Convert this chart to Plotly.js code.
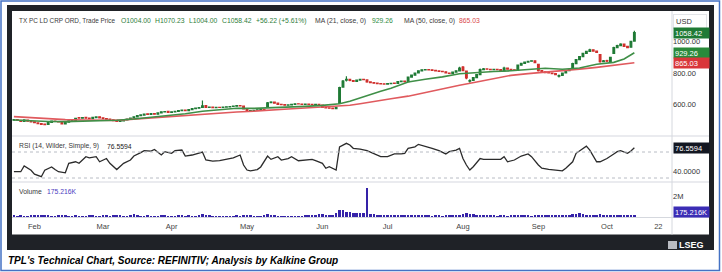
<!DOCTYPE html>
<html><head><meta charset="utf-8">
<script src="https://cdn.plot.ly/plotly-3.0.1.min.js"></script>
<style>html,body{margin:0;padding:0;background:#fff;}#chart{width:722px;height:272px;}</style>
</head><body><div id="chart"></div>
<script>
// ---- DATA ----
const opens = [498,503,497,491,499,492,488,481,476,473, 471,485,493,490,486,475,486,494,497,515, 511,516,512,508,515,520,514,509,506,501,
497,490,494,500,506,512,520,528,531,539, 536,541,537,545,552,555,549,552,555,560, 563,559,566,572,575,580,592,580,582,579,
581,580,582,584,586,588,592,588,569,558, 560,562,565,566,580,610,614,607,600,598, 594,596,600,603,602,600,601,600,597,600,
595,580,577,575,572,605,710,755,760,752, 747,755,760,756,743,738,735,732,731,729, 732,735,733,745,748,745,774,786,800,814,
820,822,820,817,813,810,808,800,798,806, 814,838,812,748,752,770,790,822,826,824, 822,823,821,814,832,824,820,818,850,862,
870,875,878,856,815,808,803,800,796,780, 784,800,815,830,860,885,905,925,938,948, 940,918,872,880,872,925,962,975,984,970,
965,1004];
const highs = [505,505,499,502,501,494,490,483,478,476, 486,494,496,492,487,487,496,499,512,517, 518,518,514,518,521,522,516,511,508,503,
499,496,502,508,514,522,530,534,540,541, 543,543,547,554,557,557,554,557,562,565, 565,568,574,577,581,625,595,585,584,583,
583,584,586,588,590,594,594,590,572,563, 564,567,568,568,615,620,616,609,603,600, 599,602,605,606,604,604,603,602,602,602,
597,583,580,578,583,712,755,780,764,755, 758,763,762,759,746,741,738,735,733,735, 737,737,748,752,750,778,790,803,817,824,
826,825,822,819,815,812,810,803,809,817, 840,845,815,760,774,794,828,832,829,826, 826,825,823,840,834,826,822,853,865,873,
878,882,880,858,818,811,806,803,799,790, 803,818,825,865,889,909,929,942,955,951, 943,920,883,884,904,968,980,990,987,974,
1006,1070.23];
const lows = [495,496,488,489,490,485,480,474,469,466, 470,483,488,484,472,473,484,492,495,509, 509,509,505,506,513,511,506,503,498,493,
487,488,492,498,504,510,518,525,529,533, 534,535,535,543,550,547,546,550,553,558, 557,557,564,570,573,578,578,577,576,577,
578,578,580,582,584,586,586,567,555,556, 558,560,563,561,578,607,604,598,596,592, 592,594,598,600,598,598,598,595,595,593,
576,575,572,569,570,602,708,745,748,743, 745,752,753,738,735,732,729,726,725,727, 730,730,731,742,740,743,771,783,797,811,
817,817,814,810,807,805,797,794,796,804, 812,812,760,738,750,767,788,819,821,819, 819,818,813,812,821,817,814,816,847,859,
867,872,863,810,804,799,797,792,787,772, 782,798,812,828,857,882,902,922,935,936, 928,866,868,870,869,922,958,971,966,958,
962,1004];
const closes = [502,498,490,500,492,488,482,476,472,470, 484,492,490,487,474,485,494,497,510,512, 515,511,508,516,519,513,508,505,500,496,
490,494,500,506,512,520,528,532,538,536, 540,537,545,552,554,549,552,555,560,563, 559,566,572,575,579,590,580,582,579,581,
580,582,584,586,588,592,589,570,558,560, 562,565,566,563,610,614,607,600,598,594, 596,600,603,602,600,601,600,597,600,596,
580,577,575,572,580,706,748,760,752,747, 755,760,757,743,738,735,732,730,729,732, 734,733,745,748,744,774,786,800,814,820,
822,820,817,813,810,808,800,798,806,814, 832,815,768,752,770,790,822,826,824,822, 823,821,816,832,824,820,817,850,862,870,
875,878,866,815,808,803,800,796,790,784, 800,815,822,860,885,905,925,938,948,940, 932,872,878,875,900,962,975,984,970,962,
1002.2,1058.42];
const volumeK = [160,130,150,140,120,170,190,150,210,180, 150,140,130,160,230,170,140,130,150,130,
140,120,150,160,130,140,180,150,130,160, 200,150,130,140,180,290,160,140,130,150,
120,140,130,150,160,140,120,130,150,170, 140,150,130,120,160,260,200,150,130,140,
120,130,140,120,130,150,140,230,210,160, 140,120,130,150,250,190,160,140,130,120,
130,140,120,130,140,150,160,180,170,260, 300,220,190,210,340,690,620,520,480,420,
400,380,350,2780,330,260,230,210,190,200, 180,170,160,180,170,200,190,180,170,160,
150,160,140,150,160,140,150,170,160,150, 190,260,340,300,250,220,190,180,170,160,
150,140,160,150,140,150,160,180,170,160, 150,140,150,200,190,170,160,150,180,170,
160,180,200,260,300,350,250,220,200,210, 230,270,220,200,210,230,190,180,170,180,
200,175.216];
const maIdx = [0,5,10,15,20,25,30,35,40,45,50,55,60,65,70,75,80,85,90,95,98,101,104,107,110,115,120,125,130,135,140,145,150,155,160,165,170,175,178,181];
const ma21 = [500,494,490,489,492,496,498,506,516,527,540,556,566,575,574,577,582,587,593,603,620,642,662,683,703,743,760,775,795,804,810,814,824,830,824,832,856,868,890,929.26];
const ma50 = [521,514,507,502,500,500,497,505,513,520,527,536,545,551,556,565,570,576,582,586,594,604,613,622,635,652,676,700,722,742,764,785,796,805,812,825,836,848,855,865.03];
const rsiIdx = [0,2,3,5,6,8,9,11,12,13,15,16,18,19,21,22,24,25,27,28,30,31,32,34,35,37,38,40,41,43,44,46,47,49,50,52,53,55,56,58,60,62,64,66,67,68,69,71,72,74,75,77,78,80,81,83,85,87,88,90,91,92,94,95,97,98,99,101,103,105,107,109,111,113,114,115,117,118,120,122,124,126,127,129,130,131,132,133,134,136,137,139,140,142,143,144,146,148,150,151,153,154,156,158,160,161,163,164,166,167,168,170,171,173,175,176,177,179,180,181];
const rsiVal = [39.7,39.7,48.5,42,36,32,42,47,43,39.7,38,52.6,55,52.6,62.8,61,62.8,55,60,52.6,43,48.5,52.6,57.7,63.8,69,72,71.5,74,65.4,70.5,68,72,73,63.8,65.4,67,70,57.7,56,56.6,58.7,61,65.4,50,42.3,41,43,47,63.8,58.7,62.8,57.7,60,62.8,56.6,57.7,58.7,56.6,52.6,45,47.4,42.3,78,83.4,80.8,75.7,74.5,72,68,62.8,62.8,67,67,68,75.7,78,81.8,79,75.7,72,67,70.5,73,75.7,60,50,42.3,47.4,60,58.7,58.7,57.7,58.7,62.8,55,57.7,63.8,67,62.8,50,45,43.3,42.3,41,45,55,68,75.7,79,73,55,55,60,67,70.5,72,68,71.5,76.5594];
const tickIdx = [6,26,46,68,90,109,131,153,173,188];
const tickText = ['Feb','Mar','Apr','May','Jun','Jul','Aug','Sep','Oct','22'];
const priceTicks = [600,800,1000];
const rsiTicks = [40];
const volTicks = [2000000];
const volTickText = ['2M'];
const rsiLevels = [70,30];

// ---- LAYOUT HELPERS ----
const W = 722, H = 272;
const px = x => x / W, py = y => 1 - y / H;
const idx = closes.map((_, i) => i);
const last = closes.length - 1;
const F = 'Liberation Sans, Arial, sans-serif';
const GREEN = '#1f7a35', RED = '#cf2f2c', VOLC = '#3522a8';
const XR = [-0.554, 191.98];
const HF = 6.8;

const traces = [
  {type:'candlestick', x:idx, open:opens, high:highs, low:lows, close:closes, xaxis:'x', yaxis:'y',
   increasing:{line:{color:GREEN,width:1.2}, fillcolor:GREEN},
   decreasing:{line:{color:RED,width:1.2}, fillcolor:RED}, whiskerwidth:0, hoverinfo:'skip'},
  {type:'scatter', mode:'lines', x:maIdx, y:ma50, xaxis:'x', yaxis:'y', line:{color:'#e05a5e', width:1.6}, hoverinfo:'skip'},
  {type:'scatter', mode:'lines', x:maIdx, y:ma21, xaxis:'x', yaxis:'y', line:{color:'#3f8f47', width:1.6}, hoverinfo:'skip'},
  {type:'scatter', mode:'lines', x:rsiIdx, y:rsiVal, xaxis:'x', yaxis:'y2', line:{color:'#2b2b2b', width:1.3}, hoverinfo:'skip'},
  {type:'bar', x:idx, y:volumeK.map(v => v * 1000), xaxis:'x', yaxis:'y3', marker:{color:VOLC, line:{width:0}}, width:0.75, hoverinfo:'skip'}
];

const axY = (dom, rng, tv, tt) => ({domain:dom, range:rng, side:'right', anchor:'x', tickvals:tv, ticktext:tt,
  showgrid:false, zeroline:false, showline:false, ticks:'', fixedrange:true, tickfont:{family:F, size:7.5, color:'#333'}});

const shapes = [
  {type:'rect', xref:'paper', yref:'paper', x0:px(1), x1:px(719.5), y0:py(270.5), y1:py(1), line:{color:'#4472c4', width:1.5}, fillcolor:'rgba(0,0,0,0)', layer:'below'},
  {type:'rect', xref:'paper', yref:'paper', x0:px(7), x1:px(714), y0:py(250), y1:py(5), line:{width:0}, fillcolor:'#1f2227', layer:'below'},
  {type:'rect', xref:'paper', yref:'paper', x0:px(12), x1:px(709), y0:py(234.5), y1:py(11), line:{width:0}, fillcolor:'#ffffff', layer:'below'},
  {type:'line', xref:'paper', yref:'paper', x0:px(12), x1:px(709), y0:py(136), y1:py(136), line:{color:'#e3e5ea', width:1.5}},
  {type:'line', xref:'paper', yref:'paper', x0:px(12), x1:px(709), y0:py(182), y1:py(182), line:{color:'#e3e5ea', width:1.5}},
  {type:'line', xref:'paper', yref:'paper', x0:px(12), x1:px(709), y0:py(217.5), y1:py(217.5), line:{color:'#d5d8de', width:1}},
  {type:'line', xref:'paper', yref:'paper', x0:px(672), x1:px(672), y0:py(234.5), y1:py(11), line:{color:'#d5d8de', width:1}},
  {type:'rect', xref:'paper', yref:'paper', x0:px(668), x1:px(677), y0:py(249), y1:py(241), line:{width:0}, fillcolor:'#b9bcc2'}
];
rsiLevels.forEach(v => shapes.push({type:'line', xref:'x', yref:'y2', x0:XR[0], x1:XR[1], y0:v, y1:v, line:{color:'#b8bcc4', width:1, dash:'dot'}}));

const chg = closes[last] - closes[last - 1];
const pct = chg / closes[last - 1] * 100;
const fmt = v => v.toFixed(2);
const hdr = (text, x, y, color, size) => ({text, x:px(x), y:py(y), xref:'paper', yref:'paper', xanchor:'left', yanchor:'middle', showarrow:false, font:{family:F, size:size || HF, color}});
const tag = (text, y, yref, bg) => ({text, x:px(672.5), y, xref:'paper', yref, xanchor:'left', yanchor:'middle', showarrow:false,
  bgcolor:bg, borderpad:1, width:33, height:8, align:'left', font:{family:F, size:7.5, color:'#fff'}});
const sgn = v => (v >= 0 ? '+' : '');

const annotations = [
  hdr('TX PC LD CRP ORD, Trade Price', 17, 21, '#3a3a3a', 6.4),
  hdr('O' + fmt(opens[last]), 119, 21, '#2e7d3a'),
  hdr('H' + fmt(highs[last]), 153, 21, '#2e7d3a'),
  hdr('L' + fmt(lows[last]), 187, 21, '#2e7d3a'),
  hdr('C' + fmt(closes[last]), 220, 21, '#2e7d3a'),
  hdr(sgn(chg) + fmt(chg) + ' (' + sgn(chg) + fmt(pct) + '%)', 254, 21, '#2e7d3a'),
  hdr('MA (21, close, 0)', 313, 21, '#3a3a3a'),
  hdr(fmt(ma21[ma21.length-1]), 370, 21, '#2e8b3e'),
  hdr('MA (50, close, 0)', 402, 21, '#3a3a3a'),
  hdr(fmt(ma50[ma50.length-1]), 457, 21, '#d9474b'),
  hdr('RSI (14, Wilder, Simple, 9)', 17, 146, '#3a3a3a'),
  hdr(rsiVal[rsiVal.length-1].toFixed(4), 105, 146, '#222'),
  hdr('Volume', 17, 191.5, '#3a3a3a'),
  hdr((volumeK[last]).toFixed(3) + 'K', 45, 191.5, '#4b3cc0'),
  {text:'USD', x:px(673), y:py(21.5), xref:'paper', yref:'paper', xanchor:'left', yanchor:'middle', showarrow:false,
   bordercolor:'#e2e4e8', borderwidth:1, borderpad:2, width:28, align:'left', font:{family:F, size:7.5, color:'#333'}},
  tag(fmt(closes[last]), closes[last], 'y', GREEN),
  tag(fmt(ma21[ma21.length-1]), ma21[ma21.length-1], 'y', '#2a8a3b'),
  tag(fmt(ma50[ma50.length-1]), ma50[ma50.length-1], 'y', '#d9363a'),
  tag(rsiVal[rsiVal.length-1].toFixed(4), rsiVal[rsiVal.length-1], 'y2', '#131722'),
  {...tag((volumeK[last]).toFixed(3) + 'K', 0, 'paper', '#3b2db5'), y:py(211.5)},
  {text:'<b>LSEG</b>', x:px(706), y:py(245), xref:'paper', yref:'paper', xanchor:'right', yanchor:'middle', showarrow:false,
   font:{family:F, size:9, color:'#ffffff'}},
  {text:"<b><i>TPL's Technical Chart, Source: REFINITIV; Analysis by Kalkine Group</i></b>", x:px(6), y:py(260), xref:'paper', yref:'paper',
   xanchor:'left', yanchor:'middle', showarrow:false, font:{family:'Liberation Sans, Arial, sans-serif', size:10, color:'#000'}}
];

const layout = {
  width:W, height:H, autosize:false, margin:{l:0,r:0,t:0,b:0,pad:0},
  paper_bgcolor:'#ffffff', plot_bgcolor:'rgba(0,0,0,0)', showlegend:false, bargap:0,
  xaxis:{domain:[px(12), px(672)], range:XR, anchor:'y3', tickvals:tickIdx, ticktext:tickText, ticks:'',
    showgrid:false, zeroline:false, showline:false, rangeslider:{visible:false}, fixedrange:true,
    tickfont:{family:F, size:7.5, color:'#444'}, ticklabelstandoff:3},
  yaxis: axY([py(135), py(11)], [403.8, 1196.2], priceTicks, priceTicks.map(v => v.toFixed(2))),
  yaxis2: axY([py(181), py(137)], [25.4, 93.1], rsiTicks, rsiTicks.map(v => v.toFixed(4))),
  yaxis3: axY([py(217), py(183)], [0, 3.24e6], volTicks, volTickText),
  shapes, annotations
};

Plotly.newPlot('chart', traces, layout, {staticPlot:true, displayModeBar:false});
</script></body></html>
